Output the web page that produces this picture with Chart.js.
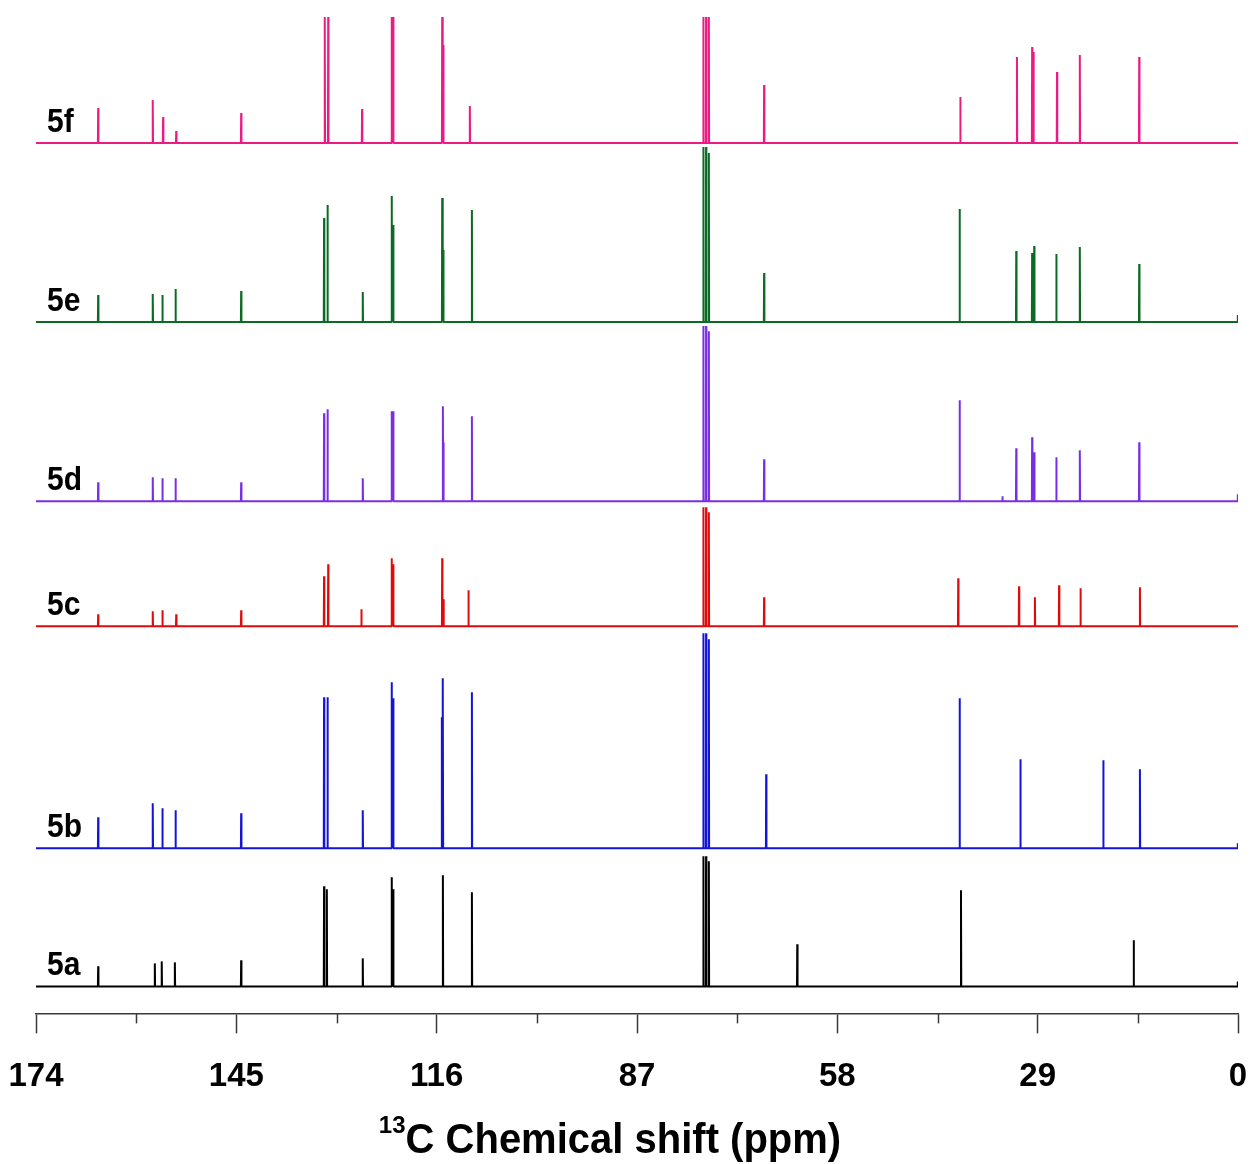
<!DOCTYPE html>
<html>
<head>
<meta charset="utf-8">
<title>13C NMR spectra 5a-5f</title>
<script src="https://cdn.jsdelivr.net/npm/chart.js@4.4.1/dist/chart.umd.min.js"></script>
<style>
  html, body { margin: 0; padding: 0; background: #ffffff; }
</style>
</head>
<body>
<canvas id="nmrChart" width="1250" height="1164"></canvas>
<script>
// ===============================
// PEAK LISTS (ppm) AND PEAK HEIGHTS
// ===============================
const names = ["5a", "5b", "5c", "5d", "5e", "5f"];

const shifts5a  = [165.0, 156.8, 155.8, 153.9, 144.3, 132.3, 131.9, 126.7, 122.5, 122.3, 115.1, 110.9, 77.4, 77.0, 76.6, 63.8, 40.1, 15.1, 0.05];
const heights5a = [20, 23, 25, 24, 26, 100, 97, 28, 109, 97, 111, 94, 130, 130, 125, 42, 96, 46, 5];

const shifts5b  = [165.0, 157.1, 155.7, 153.8, 144.3, 132.3, 131.8, 126.7, 122.5, 122.3, 115.25, 115.1, 110.9, 77.4, 77.0, 76.6, 68.3, 40.3, 31.5, 19.5, 14.2, 0.05];
const heights5b = [31, 45, 40, 38, 35, 151, 151, 38, 166, 150, 131, 170, 156, 215, 215, 209, 74, 150, 89, 88, 79, 5];

const shifts5c  = [165.0, 157.1, 155.7, 153.7, 144.3, 132.3, 131.7, 126.9, 122.5, 122.3, 115.2, 115.0, 111.4, 77.4, 77.0, 76.6, 68.6, 40.5, 31.7, 29.4, 25.9, 22.8, 14.2];
const heights5c = [12, 15, 16, 12, 16, 50, 62, 17, 68, 62, 68, 27, 36, 119, 119, 114, 29, 48, 40, 29, 41, 38, 39];

const shifts5d  = [165.0, 157.1, 155.7, 153.8, 144.3, 132.3, 131.8, 126.7, 122.5, 122.3, 115.1, 115.0, 110.9, 77.4, 77.0, 76.6, 68.6, 40.3, 34.1, 32.1, 29.8, 29.5, 26.3, 22.9, 14.3, 0.05];
const heights5d = [19, 24, 23, 23, 19, 88, 92, 23, 90, 90, 95, 59, 85, 175, 175, 170, 42, 101, 5, 53, 64, 49, 44, 51, 59, 7];

const shifts5e  = [165.0, 157.1, 155.7, 153.8, 144.3, 132.3, 131.8, 126.7, 122.5, 122.3, 115.2, 115.05, 110.9, 77.4, 77.0, 76.6, 68.6, 40.3, 32.1, 29.8, 29.5, 26.3, 22.9, 14.3, 0.05];
const heights5e = [27, 28, 27, 33, 31, 104, 117, 30, 126, 97, 124, 72, 112, 175, 175, 169, 49, 113, 71, 69, 76, 68, 75, 58, 7];

const shifts5f  = [165.0, 157.1, 155.6, 153.7, 144.3, 132.2, 131.7, 126.8, 122.5, 122.3, 115.2, 115.05, 111.2, 77.4, 77.0, 76.6, 68.6, 40.2, 32.0, 29.8, 29.6, 26.2, 22.9, 14.3];
const heights5f = [35, 43, 26, 12, 30, 126, 126, 34, 126, 126, 126, 98, 37, 126, 126, 126, 58, 46, 86, 96, 91, 71, 88, 86];

const majorTicks = [174, 145, 116, 87, 58, 29, 0];
const minorTicks = [159.5, 130.5, 101.5, 72.5, 43.5, 14.5];

// ===============================
// STYLE / LAYOUT
// ===============================
const colors = ["#000000", "#1414d6", "#de0b0b", "#7a2ee2", "#0b6a23", "#ec1b84"];
const baselineOffsets = [27, 165, 387, 512, 691, 870];   // vertical stacking of the traces
const allShifts = [shifts5a, shifts5b, shifts5c, shifts5d, shifts5e, shifts5f];
const allHeights = [heights5a, heights5b, heights5c, heights5d, heights5e, heights5f];

const PPM_MAX = 174, PPM_MIN = 0;
const PEAK_HALF_WIDTH = 0.04;
const FONT = "'Liberation Sans', Arial, sans-serif";

// turn a peak list into a stick spectrum sitting on its own baseline
function buildSpectrum(shifts, heights, base) {
    const order = shifts.map((_, i) => i).sort((a, b) => shifts[b] - shifts[a]);
    const pts = [{ x: PPM_MAX, y: base }];
    order.forEach(i => {
        pts.push({ x: shifts[i] + PEAK_HALF_WIDTH, y: base });
        pts.push({ x: shifts[i], y: base + heights[i] });
        pts.push({ x: shifts[i] - PEAK_HALF_WIDTH, y: base });
    });
    pts.push({ x: PPM_MIN, y: base });
    return pts;
}

const datasets = names.map((name, i) => ({
    label: name,
    data: buildSpectrum(allShifts[i], allHeights[i], baselineOffsets[i]),
    borderColor: colors[i],
    borderWidth: 2,
    borderJoinStyle: "bevel",
    pointRadius: 0,
    tension: 0,
    fill: false,
    baseOffset: baselineOffsets[i]
}));

// ===============================
// PLUGINS: minor ticks, trace labels, axis title
// ===============================
const minorTickPlugin = {
    id: "minorTicks",
    afterDraw(chart) {
        const { ctx, chartArea } = chart;
        const xs = chart.scales.x;
        ctx.save();
        ctx.strokeStyle = "#3a3a3a";
        ctx.lineWidth = 1.5;
        minorTicks.forEach(v => {
            const px = Math.round(xs.getPixelForValue(v)) + 0.5;
            ctx.beginPath();
            ctx.moveTo(px, chartArea.bottom);
            ctx.lineTo(px, chartArea.bottom + 10);
            ctx.stroke();
        });
        ctx.restore();
    }
};

const traceLabelPlugin = {
    id: "traceLabels",
    afterDatasetsDraw(chart) {
        const { ctx } = chart;
        const xs = chart.scales.x, ys = chart.scales.y;
        ctx.save();
        ctx.fillStyle = "#000000";
        ctx.font = "bold 30px " + FONT;
        ctx.textAlign = "left";
        ctx.textBaseline = "alphabetic";
        chart.data.datasets.forEach(ds => {
            const px = xs.getPixelForValue(172.4);
            const py = ys.getPixelForValue(ds.baseOffset) - 11;
            ctx.save();
            ctx.translate(px, py);
            ctx.scale(1, 1.12);
            ctx.fillText(ds.label, 0, 0);
            ctx.restore();
        });
        ctx.restore();
    }
};

const axisTitlePlugin = {
    id: "axisTitle",
    afterDraw(chart) {
        const { ctx, chartArea } = chart;
        const main = "C Chemical shift (ppm)";
        ctx.save();
        ctx.fillStyle = "#000000";
        ctx.textBaseline = "alphabetic";
        ctx.font = "bold 24px " + FONT;
        const supW = ctx.measureText("13").width;
        ctx.font = "bold 40px " + FONT;
        const mainW = ctx.measureText(main).width;
        const centre = (chartArea.left + chartArea.right) / 2 - 27;
        const left = centre - (supW + mainW) / 2;
        const baseY = chart.height - 11;
        ctx.save();
        ctx.translate(left + supW, baseY);
        ctx.scale(1, 1.05);
        ctx.fillText(main, 0, 0);
        ctx.restore();
        ctx.font = "bold 24px " + FONT;
        ctx.fillText("13", left, baseY - 20);
        ctx.restore();
    }
};

// ===============================
// CHART
// ===============================
new Chart(document.getElementById("nmrChart"), {
    type: "line",
    data: { datasets: datasets },
    options: {
        responsive: false,
        animation: false,
        devicePixelRatio: 1,
        layout: { padding: { left: 36, right: 12, top: 15, bottom: 43 } },
        plugins: {
            legend: { display: false },
            tooltip: { enabled: false }
        },
        scales: {
            x: {
                type: "linear",
                reverse: true,
                min: PPM_MIN,
                max: PPM_MAX,
                afterBuildTicks: scale => {
                    scale.ticks = majorTicks.map(v => ({ value: v }));
                },
                // let the end labels hang into the page margin
                afterFit: scale => {
                    scale.paddingLeft = 0;
                    scale.paddingRight = 0;
                },
                ticks: {
                    autoSkip: false,
                    maxRotation: 0,
                    padding: 24,
                    color: "#000000",
                    font: { family: FONT, size: 33, weight: "bold" },
                    callback: v => String(v)
                },
                grid: {
                    display: true,
                    drawOnChartArea: false,
                    drawTicks: true,
                    tickLength: 20,
                    tickColor: "#3a3a3a",
                    tickWidth: 1.5
                },
                border: { display: true, color: "#3a3a3a", width: 1.5 }
            },
            y: {
                display: false,
                min: 0,
                max: 998
            }
        }
    },
    plugins: [minorTickPlugin, traceLabelPlugin, axisTitlePlugin]
});
</script>
</body>
</html>
